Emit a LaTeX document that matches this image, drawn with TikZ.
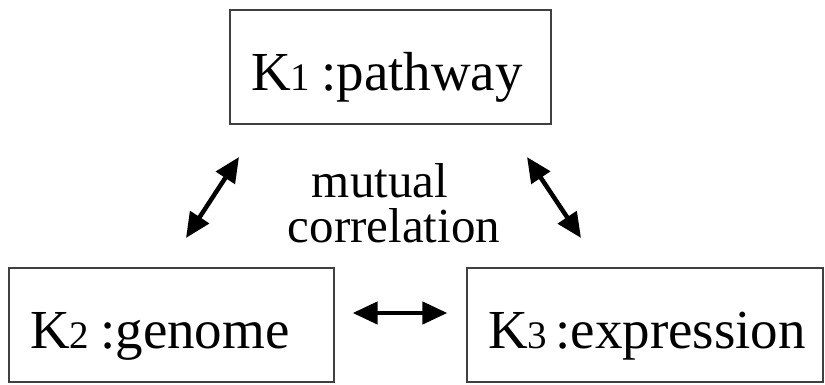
\documentclass[tikz,border=0pt]{standalone}
\usepackage{fontspec}
\setmainfont{Liberation Serif}
\usetikzlibrary{arrows.meta}
\newcommand{\smdig}[1]{{\fontsize{39}{39}\selectfont #1}}
\tikzset{
  kbox/.style={draw=black!75, line width=1.3pt, minimum height=114pt, inner xsep=21pt,
    align=left, font=\fontsize{55}{55}\selectfont},
  lbl/.style={anchor=base, inner sep=0pt, font=\fontsize{49}{49}\selectfont},
  darrow/.style={line width=4.5pt, {Triangle[length=25pt,width=22pt]}-{Triangle[length=25pt,width=22pt]}}
}
\begin{document}
\begin{tikzpicture}[x=1pt,y=-1pt]
\useasboundingbox (0,0) rectangle (825,385);
\node[kbox, minimum width=321pt, text width=279pt, text height=48pt, text depth=0pt] (k1) at (390.5,67) {\mbox{K\smdig{1}\hspace{0.2em}:pathway}};
\node[kbox, minimum width=325pt, text width=283pt, text height=46pt, text depth=0pt] (k2) at (171.5,325) {\mbox{K\smdig{2}\hspace{0.2em}:genome}};
\node[kbox, minimum width=356pt, text width=314pt, text height=46pt, text depth=0pt] (k3) at (645,325) {\mbox{K\smdig{3}\hspace{0.15em}:expression}};
\node[lbl] (mu) at (380,197) {mutual};
\node[lbl] (co) at (394,242) {correlation};
\coordinate (la) at (239,157);
\coordinate (lb) at (186,238);
\coordinate (ra) at (527,157);
\coordinate (rb) at (581,238);
\draw[darrow] (la) -- (lb);
\draw[darrow] (ra) -- (rb);
\draw[darrow, shorten <=18pt, shorten >=19pt] ([yshift=12pt]k2.east) -- ([yshift=12pt]k3.west);
\end{tikzpicture}
\end{document}
